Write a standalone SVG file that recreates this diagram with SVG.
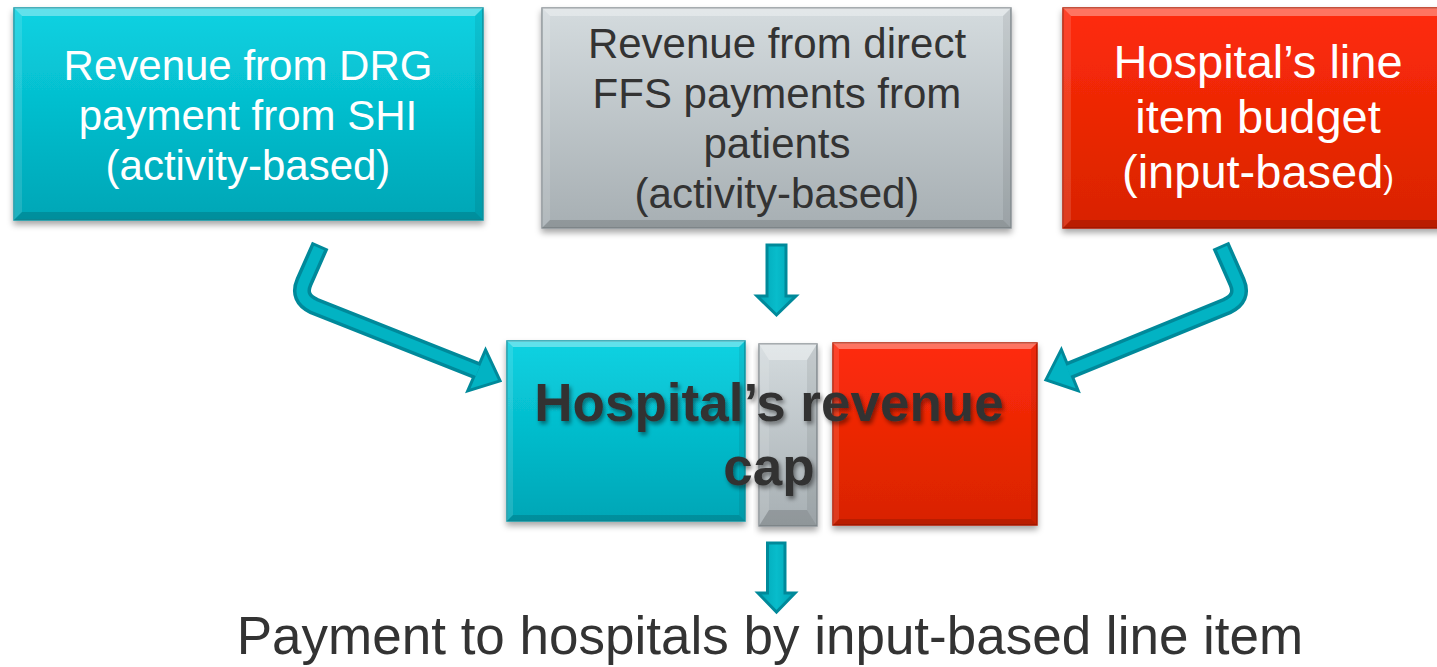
<svg xmlns="http://www.w3.org/2000/svg" width="1437" height="667" viewBox="0 0 1437 667">
<style>
.t{font-family:"Liberation Sans",Arial,Helvetica,sans-serif;text-anchor:middle}
.w{fill:#ffffff;font-size:42px}
.d{fill:#333333;font-size:42px}
.bv1{fill:#ffffff;fill-opacity:.35}
.bv2{fill:#ffffff;fill-opacity:.12}
.bv3{fill:#000000;fill-opacity:.07}
.bv4{fill:#000000;fill-opacity:.14}
.arr{fill:url(#ag);stroke:#00899a;stroke-width:3;stroke-linejoin:miter}
</style>
<defs>
<linearGradient id="teal" x1="0" y1="0" x2="0" y2="1">
<stop offset="0" stop-color="#0ad2e2"/><stop offset="1" stop-color="#00a6b6"/>
</linearGradient>
<linearGradient id="gray" x1="0" y1="0" x2="0" y2="1">
<stop offset="0" stop-color="#d4dbde"/><stop offset="1" stop-color="#a7afb3"/>
</linearGradient>
<linearGradient id="red" x1="0" y1="0" x2="0" y2="1">
<stop offset="0" stop-color="#ff2b0a"/><stop offset="1" stop-color="#d82300"/>
</linearGradient>
<linearGradient id="ag" x1="0" y1="0" x2="1" y2="0">
<stop offset="0" stop-color="#00a3b3"/><stop offset="0.5" stop-color="#08bccb"/><stop offset="1" stop-color="#00a3b3"/>
</linearGradient>
<filter id="sh" x="-10%" y="-10%" width="120%" height="130%">
<feDropShadow dx="0" dy="4" stdDeviation="3" flood-color="#000" flood-opacity="0.35"/>
</filter>
<filter id="tsh" x="-10%" y="-20%" width="120%" height="150%">
<feDropShadow dx="2" dy="3" stdDeviation="2" flood-color="#000" flood-opacity="0.45"/>
</filter>
</defs>
<rect width="1437" height="667" fill="#ffffff"/>

<g id="node-drg">
<rect x="14" y="8" width="469" height="212" fill="url(#teal)" stroke="#0a98a6" stroke-width="1.5" filter="url(#sh)"/>
<polygon class="bv1" points="14,8 483,8 475,16 22,16"/>
<polygon class="bv2" points="14,8 22,16 22,212 14,220"/>
<polygon class="bv3" points="483,8 483,220 475,212 475,16"/>
<polygon class="bv4" points="14,220 22,212 475,212 483,220"/>
<text class="t w" x="248" y="80">Revenue from DRG</text>
<text class="t w" x="248" y="130">payment from SHI</text>
<text class="t w" x="248" y="180">(activity-based)</text>
</g>

<g id="node-ffs">
<rect x="542" y="8" width="469" height="220" fill="url(#gray)" stroke="#8c9498" stroke-width="1.5" filter="url(#sh)"/>
<polygon class="bv1" points="542,8 1011,8 1003,16 550,16"/>
<polygon class="bv2" points="542,8 550,16 550,220 542,228"/>
<polygon class="bv3" points="1011,8 1011,228 1003,220 1003,16"/>
<polygon class="bv4" points="542,228 550,220 1003,220 1011,228"/>
<text class="t d" x="777" y="58">Revenue from direct</text>
<text class="t d" x="777" y="108">FFS payments from</text>
<text class="t d" x="777" y="158">patients</text>
<text class="t d" x="777" y="208">(activity-based)</text>
</g>

<g id="node-budget">
<rect x="1063" y="8" width="400" height="220" fill="url(#red)" stroke="#b51c00" stroke-width="1.5" filter="url(#sh)"/>
<polygon class="bv1" points="1063,8 1463,8 1455,16 1071,16"/>
<polygon class="bv2" points="1063,8 1071,16 1071,220 1063,228"/>
<polygon class="bv4" points="1063,228 1071,220 1455,220 1463,228"/>
<text class="t w" x="1258" y="78" style="font-size:47px">Hospital’s line</text>
<text class="t w" x="1258" y="133" style="font-size:47px">item budget</text>
<text class="t w" x="1258" y="188" style="font-size:47px">(input-based<tspan style="font-size:32px">)</tspan></text>
</g>

<g id="node-cap">
<rect x="507" y="341" width="238" height="180" fill="url(#teal)" stroke="#0a98a6" stroke-width="1.5" filter="url(#sh)"/>
<polygon class="bv1" points="507,341 745,341 739,347 513,347"/>
<polygon class="bv2" points="507,341 513,347 513,515 507,521"/>
<polygon class="bv3" points="745,341 745,521 739,515 739,347"/>
<polygon class="bv4" points="507,521 513,515 739,515 745,521"/>
<rect x="759" y="344" width="58" height="182" fill="url(#gray)" stroke="#8c9498" stroke-width="1.5" filter="url(#sh)"/>
<polygon class="bv1" points="759,344 817,344 807,360 769,360"/>
<polygon class="bv2" points="759,344 769,360 769,510 759,526"/>
<polygon class="bv3" points="817,344 817,526 807,510 807,360"/>
<polygon class="bv4" points="759,526 769,510 807,510 817,526"/>
<rect x="833" y="343" width="204" height="182" fill="url(#red)" stroke="#b51c00" stroke-width="1.5" filter="url(#sh)"/>
<polygon class="bv1" points="833,343 1037,343 1031,349 839,349"/>
<polygon class="bv2" points="833,343 839,349 839,519 833,525"/>
<polygon class="bv3" points="1037,343 1037,525 1031,519 1031,349"/>
<polygon class="bv4" points="833,525 839,519 1031,519 1037,525"/>
<g filter="url(#tsh)">
<text class="t" x="769" y="421" style="font-size:53px;font-weight:bold;fill:#333333">Hospital’s revenue</text>
<text class="t" x="769" y="485" style="font-size:53px;font-weight:bold;fill:#333333">cap</text>
</g>
</g>

<g id="node-payment">
<text class="t" x="770" y="654" style="font-size:53px;fill:#333333">Payment to hospitals by input-based line item</text>
</g>

<g id="connectors">
<path d="M320.2,245.3 L304,282 Q297,298 314,306 L478,371" fill="none" stroke="#00899a" stroke-width="18"/>
<polygon points="498,380 470.4,388.4 485.6,353.6" fill="#00899a" stroke="#00899a" stroke-width="6" stroke-linejoin="miter"/>
<path d="M319,248 L304,282 Q297,298 314,306 L478,371" fill="none" stroke="#02b3c3" stroke-width="11"/>
<polygon points="498,380 470.4,388.4 485.6,353.6" fill="#02b3c3"/>
<path d="M1220.8,245.3 L1237,282 Q1244,298 1227,306 L1068,371" fill="none" stroke="#00899a" stroke-width="18"/>
<polygon points="1048,379 1061.2,353.1 1075.6,388.3" fill="#00899a" stroke="#00899a" stroke-width="6" stroke-linejoin="miter"/>
<path d="M1222,248 L1237,282 Q1244,298 1227,306 L1068,371" fill="none" stroke="#02b3c3" stroke-width="11"/>
<polygon points="1048,379 1061.2,353.1 1075.6,388.3" fill="#02b3c3"/>
<polygon class="arr" points="767,245 786,245 786,296 796,296 776.5,315 757,296 767,296"/>
<polygon class="arr" points="767.5,543 785,543 785,593 795,593 776.5,612 758,593 767.5,593"/>
</g>
</svg>
